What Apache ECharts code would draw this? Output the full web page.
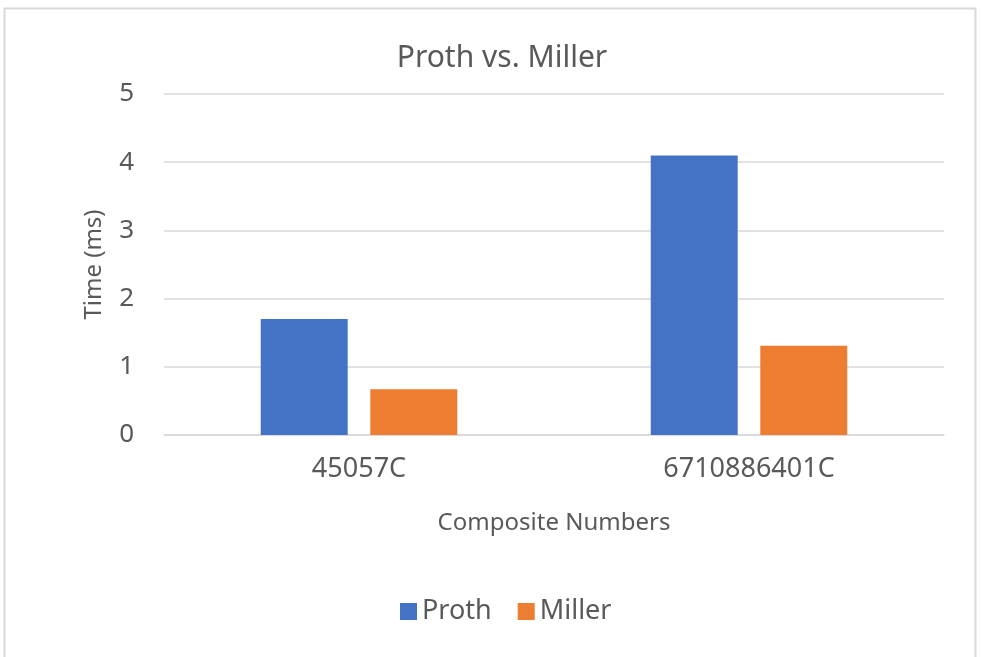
<!DOCTYPE html>
<html>
<head>
<meta charset="utf-8">
<script src="https://cdn.jsdelivr.net/npm/echarts@6/dist/echarts.min.js"></script>
<style>
  html, body { margin: 0; padding: 0; background: #fff; }
  #main { width: 981px; height: 657px; }
</style>
</head>
<body>
<div id="main"></div>
<script>
// data
const categories = ['45057C', '6710886401C'];
const prothValues = [1.7, 4.1];
const millerValues = [0.67, 1.31];
const yTicks = [0, 1, 2, 3, 4, 5];

const font = 'Noto Sans';
const grey = '#595959';

const chart = echarts.init(document.getElementById('main'));

chart.setOption({
  animation: false,
  color: ['#4472c4', '#ed7d31'],
  textStyle: { fontFamily: font },
  graphic: [{
    type: 'rect',
    shape: { x: 4.5, y: 8.5, width: 971, height: 660 },
    style: { fill: 'none', stroke: '#d9d9d9', lineWidth: 2 },
    silent: true
  }],
  title: {
    text: 'Proth vs. Miller',
    left: 497,
    textAlign: 'center',
    top: 38,
    textStyle: { fontFamily: font, fontSize: 30, fontWeight: 'normal', color: grey }
  },
  legend: {
    bottom: 27,
    left: 395,
    itemWidth: 17,
    itemHeight: 17,
    itemGap: 26,
    icon: 'rect',
    textStyle: { fontFamily: font, fontSize: 27, color: grey }
  },
  grid: { left: 164, right: 37, top: 94, bottom: 222 },
  xAxis: {
    type: 'category',
    data: categories,
    name: 'Composite Numbers',
    nameLocation: 'middle',
    nameGap: 76,
    nameTextStyle: { fontFamily: font, fontSize: 24, color: grey },
    axisLine: { lineStyle: { color: '#d9d9d9', width: 1.5 } },
    axisTick: { show: false },
    axisLabel: { fontFamily: font, fontSize: 27, color: grey, margin: 21 }
  },
  yAxis: {
    type: 'value',
    min: yTicks[0],
    max: yTicks[yTicks.length - 1],
    interval: 1,
    name: 'Time (ms)',
    nameLocation: 'middle',
    nameGap: 58,
    nameTextStyle: { fontFamily: font, fontSize: 24, color: grey },
    axisLine: { show: false },
    axisTick: { show: false },
    axisLabel: { fontFamily: font, fontSize: 26, color: grey, margin: 30 },
    splitLine: { lineStyle: { color: '#d9d9d9', width: 1.5 } }
  },
  series: [
    {
      name: 'Proth',
      type: 'bar',
      data: prothValues,
      barWidth: '22.3%',
      barGap: '26%'
    },
    {
      name: 'Miller',
      type: 'bar',
      data: millerValues,
      barWidth: '22.3%',
      barGap: '26%'
    }
  ]
});
</script>
</body>
</html>
